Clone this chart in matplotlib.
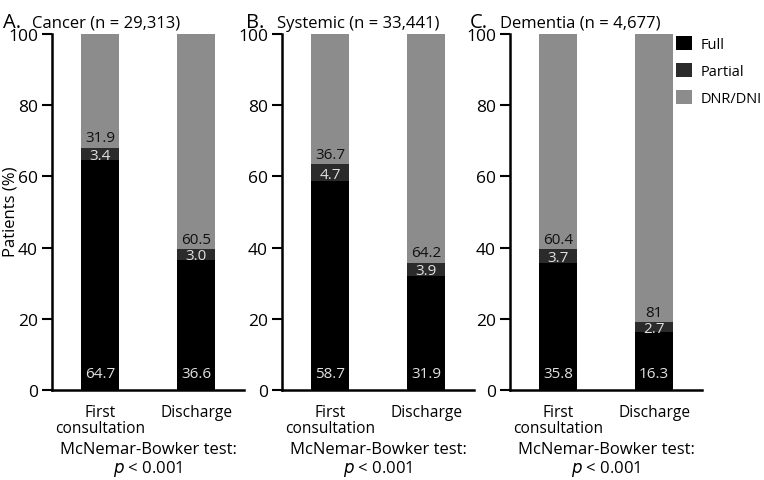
import matplotlib
matplotlib.use("Agg")
import matplotlib.pyplot as plt
from matplotlib.patches import Patch

plt.rcParams['font.family'] = ['Open Sans', 'DejaVu Sans']

panels = ["A.", "B.", "C."]
titles = ["Cancer (n = 29,313)", "Systemic (n = 33,441)", "Dementia (n = 4,677)"]
categories = ["First\nconsultation", "Discharge"]
full = [[64.7, 36.6], [58.7, 31.9], [35.8, 16.3]]
partial = [[3.4, 3.0], [4.7, 3.9], [3.7, 2.7]]
dnr = [[31.9, 60.5], [36.7, 64.2], [60.4, 81]]
dnr_labels = [["31.9", "60.5"], ["36.7", "64.2"], ["60.4", "81"]]
yticks = [0, 20, 40, 60, 80, 100]
series_names = ["Full", "Partial", "DNR/DNI"]

c_full, c_part, c_dnr = "#000000", "#2b2b2b", "#8c8c8c"

W, H = 764, 481
fig = plt.figure(figsize=(W / 100, H / 100), dpi=100)

ax_left = [52, 282, 510]
ax_w = 192
y_top, y_bot = 35, 391
title_x = [(3, 32), (246, 277), (470, 500)]

for i in range(3):
    ax = fig.add_axes([ax_left[i] / W, (H - y_bot) / H, ax_w / W, (y_bot - y_top) / H])
    x = [0, 1]
    bottoms2 = [full[i][j] + partial[i][j] for j in range(2)]
    ax.bar(x, full[i], width=0.4, color=c_full)
    ax.bar(x, partial[i], width=0.4, bottom=full[i], color=c_part)
    ax.bar(x, dnr[i], width=0.4, bottom=bottoms2, color=c_dnr)
    for j in range(2):
        ax.text(x[j], 4.5, f"{full[i][j]:.1f}", ha='center', va='center',
                color='#e0e0e0', fontsize=11)
        ax.text(x[j], full[i][j] + partial[i][j] * 0.5 - 0.4, f"{partial[i][j]:.1f}",
                ha='center', va='center', color='#e0e0e0', fontsize=11)
        ax.text(x[j], bottoms2[j] + 0.6, dnr_labels[i][j], ha='center', va='bottom',
                color='#111111', fontsize=11)
    ax.set_xlim(-0.5, 1.5)
    ax.set_ylim(0, 100)
    ax.set_yticks(yticks)
    ax.set_xticks(x)
    ax.set_xticklabels(categories, fontsize=11.2, linespacing=1.05)
    ax.tick_params(axis='y', labelsize=12.5, length=7, width=1.5, pad=3)
    ax.tick_params(axis='x', length=0, pad=10)
    for s in ['top', 'right']:
        ax.spines[s].set_visible(False)
    for s in ['left', 'bottom']:
        ax.spines[s].set_linewidth(1.8)
    cx = (ax_left[i] + ax_w / 2) / W
    fig.text(cx, 1 - 450 / H, "McNemar-Bowker test:", ha='center', va='center', fontsize=12)
    fig.text(cx, 1 - 469 / H, r"$\it{p}$ < 0.001", ha='center', va='center', fontsize=12)
    fig.text(title_x[i][0] / W, 1 - 28 / H, panels[i], fontsize=14.5, ha='left', va='baseline')
    fig.text(title_x[i][1] / W, 1 - 28 / H, titles[i], fontsize=12, ha='left', va='baseline')

fig.text(11 / W, 1 - 212 / H, "Patients (%)", rotation=90, ha='center', va='center', fontsize=12)

handles = [Patch(facecolor=c, edgecolor='none') for c in (c_full, c_part, c_dnr)]
fig.legend(handles, series_names, loc='upper left', bbox_to_anchor=(676 / W, 1 - 37 / H),
           frameon=False, fontsize=10.5, handlelength=1.1, handleheight=1.1,
           labelspacing=0.75, handletextpad=0.6, borderaxespad=0, borderpad=0)

fig.savefig("out.png", dpi=100)
